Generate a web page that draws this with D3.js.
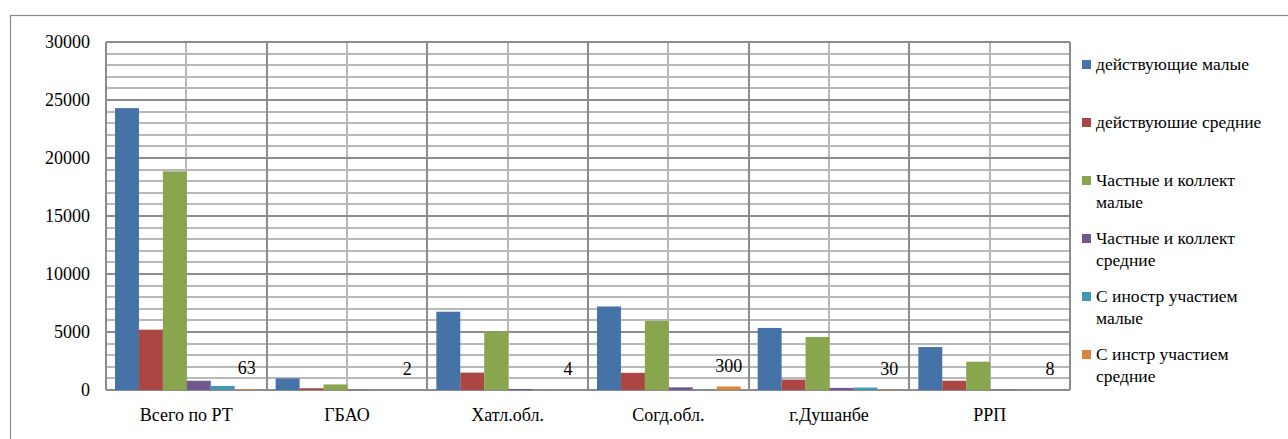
<!DOCTYPE html>
<html><head><meta charset="utf-8">
<script src="https://cdn.jsdelivr.net/npm/d3@7"></script>
<style>
body{margin:0;background:#fff}
svg text{font-family:"Times New Roman","Liberation Serif",Tinos,serif !important}
</style>
</head><body><svg id="c" width="1288" height="439"></svg>
<script>
const categories = ["Всего по РТ","ГБАО","Хатл.обл.","Согд.обл.","г.Душанбе","РРП"];
const seriesNames = [["действующие малые"],["действуюшие средние"],["Частные и коллект","малые"],["Частные и коллект","средние"],["С иностр участием","малые"],["С инстр участием","средние"]];
const activeSmall   = [24300, 1000, 6750, 7200, 5350, 3700];
const activeMedium  = [5200, 150, 1500, 1480, 900, 800];
const privateSmall  = [18850, 480, 5050, 5950, 4570, 2440];
const privateMedium = [800, 30, 90, 230, 180, 30];
const foreignSmall  = [350, 10, 15, 25, 210, 15];
const foreignMedium = [63, 2, 4, 300, 30, 8];
const yTicks = [0, 5000, 10000, 15000, 20000, 25000, 30000];
const colors = ["#4572A7","#AA4643","#89A54E","#71588F","#4198AF","#DB843D"];

const series = [activeSmall, activeMedium, privateSmall, privateMedium, foreignSmall, foreignMedium];
const svg = d3.select("#c");
const L = 106, R = 1070, T = 42, B = 390;

function txt(sel, size) {
  return sel.attr("font-family", "Times New Roman, serif")
    .style("font-family", '"Times New Roman", "Liberation Serif", serif').style("font-size", size + "px");
}

svg.append("rect").attr("x",10.5).attr("y",15.5).attr("width",1300).attr("height",460)
  .attr("fill","none").attr("stroke","#8a8a8a").attr("stroke-width",1.2);

const y = d3.scaleLinear().domain([0,30000]).range([B,T]);
const x0 = d3.scaleBand().domain(categories).range([L,R]).padding(0);
const x1 = d3.scaleBand().domain(d3.range(series.length)).range([9, x0.bandwidth()-8]).padding(0);

const g = svg.append("g");
g.selectAll("line.hmin").data(d3.range(0,30001,1000).filter(v=>v%5000!==0)).join("line")
  .attr("x1",L).attr("x2",R).attr("y1",d=>Math.round(y(d))).attr("y2",d=>Math.round(y(d)))
  .attr("stroke","#b8b8b8").attr("stroke-width",2);
g.selectAll("line.vmin").data(categories).join("line")
  .attr("x1",d=>Math.round(x0(d)+x0.bandwidth()/2)).attr("x2",d=>Math.round(x0(d)+x0.bandwidth()/2))
  .attr("y1",T).attr("y2",B).attr("stroke","#b8b8b8").attr("stroke-width",2);
g.selectAll("line.hmaj").data(yTicks).join("line")
  .attr("x1",L).attr("x2",R).attr("y1",d=>Math.round(y(d))).attr("y2",d=>Math.round(y(d)))
  .attr("stroke","#8c8c8c").attr("stroke-width",2);
g.selectAll("line.vmaj").data(categories.concat(["__end"])).join("line")
  .attr("x1",(d,i)=>Math.round(i<categories.length?x0(d):R)).attr("x2",(d,i)=>Math.round(i<categories.length?x0(d):R))
  .attr("y1",T).attr("y2",B).attr("stroke","#8c8c8c").attr("stroke-width",2);

categories.forEach((c,ci)=>{
  series.forEach((s,si)=>{
    svg.append("rect").attr("x",x0(c)+x1(si)).attr("width",x1.bandwidth())
      .attr("y",y(s[ci])).attr("height",B-y(s[ci])).attr("fill",colors[si]);
  });
});

txt(svg.selectAll("text.dl").data(foreignMedium).join("text")
  .attr("x",(d,i)=>x0(categories[i])+x1(5)+x1.bandwidth()/2)
  .attr("y",d=>y(d)-15).attr("text-anchor","middle"), 18).text(d=>d);

txt(svg.selectAll("text.yt").data(yTicks).join("text")
  .attr("x",90).attr("y",d=>y(d)+6).attr("text-anchor","end"), 18).text(d=>d);

txt(svg.selectAll("text.xt").data(categories).join("text")
  .attr("x",d=>x0(d)+x0.bandwidth()/2).attr("y",421).attr("text-anchor","middle"), 18).text(d=>d);

const lg = svg.append("g");
seriesNames.forEach((lines,i)=>{
  const cy = 64 + 58*i;
  lg.append("rect").attr("x",1082).attr("y",cy-4).attr("width",9).attr("height",9).attr("fill",colors[i]);
  lines.forEach((t,j)=>{
    txt(lg.append("text").attr("x",1096).attr("y",cy+6+22*j), 17.5).text(t);
  });
});
</script></body></html>
